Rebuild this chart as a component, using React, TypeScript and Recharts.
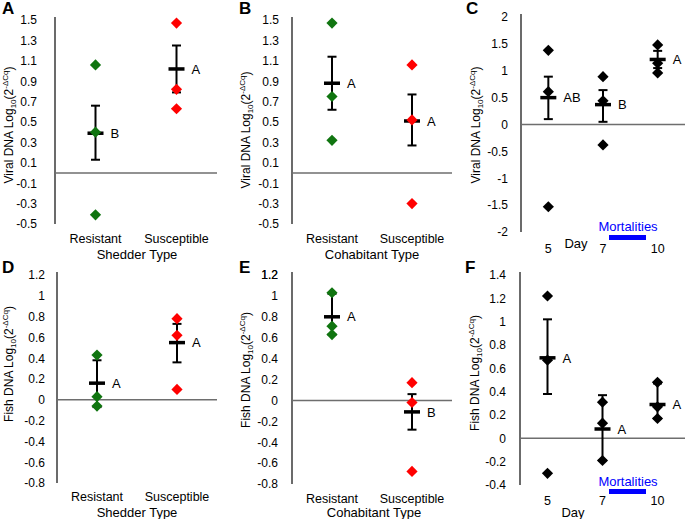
import React from "react";
import { ComposedChart, Scatter, XAxis, YAxis, ReferenceLine, ErrorBar } from "recharts";

const FONT = "'Liberation Sans', Arial, Helvetica, sans-serif";
const GREEN = "#107510";
const RED = "#ff0000";
const BLACK = "#000000";
const BLUE = "#0000ff";

// ---------- categories & ticks ----------
const typeCategories = ["Resistant", "Susceptible"];
const dayCategories = ["5", "7", "10"];

const viralTypeTicks = [-0.5, -0.3, -0.1, 0.1, 0.3, 0.5, 0.7, 0.9, 1.1, 1.3, 1.5];
const viralDayTicks = [-2, -1.5, -1, -0.5, 0, 0.5, 1, 1.5, 2];
const fishTypeTicks = [-0.8, -0.6, -0.4, -0.2, 0, 0.2, 0.4, 0.6, 0.8, 1, 1.2];
const fishCohabTicks = [-0.8, -0.6, -0.4, -0.2, 0, 0.2, 0.4, 0.6, 0.8, 1, 1.2];
const fishDayTicks = [-0.4, -0.2, 0, 0.2, 0.4, 0.6, 0.8, 1, 1.2, 1.4];

// ---------- Panel A: viral DNA, shedder type ----------
const aResistant = [1.06, 0.4, -0.41];
const aSusceptible = [1.47, 0.82, 0.63];
const aMean = [0.39, 1.02];
const aLow = [0.13, 0.79];
const aHigh = [0.66, 1.25];
const aLetters = ["B", "A"];

// ---------- Panel B: viral DNA, cohabitant type ----------
const bResistant = [1.47, 0.75, 0.32];
const bSusceptible = [1.06, 0.52, -0.3];
const bMean = [0.88, 0.51];
const bLow = [0.62, 0.27];
const bHigh = [1.14, 0.77];
const bLetters = ["A", "A"];

// ---------- Panel C: viral DNA by day ----------
const cDay5 = [1.38, 0.61, -1.53];
const cDay7 = [0.89, 0.44, -0.38];
const cDay10 = [1.48, 1.14, 0.96];
const cMean = [0.5, 0.37, 1.21];
const cLow = [0.1, 0.05, 1.05];
const cHigh = [0.89, 0.64, 1.37];
const cLetters = ["AB", "B", "A"];

// ---------- Panel D: fish DNA, shedder type ----------
const dResistant = [0.43, 0.03, -0.06];
const dSusceptible = [0.78, 0.62, 0.1];
const dMean = [0.16, 0.55];
const dLow = [-0.07, 0.36];
const dHigh = [0.38, 0.73];
const dLetters = ["A", "A"];

// ---------- Panel E: fish DNA, cohabitant type ----------
const eResistant = [1.03, 0.71, 0.63];
const eSusceptible = [0.17, -0.02, -0.68];
const eMean = [0.8, -0.11];
const eLow = [0.63, -0.28];
const eHigh = [1.02, 0.06];
const eLetters = ["A", "B"];

// ---------- Panel F: fish DNA by day ----------
const fDay5 = [1.22, 0.67, -0.3];
const fDay7 = [0.31, 0.13, -0.19];
const fDay10 = [0.48, 0.27, 0.17];
const fMean = [0.69, 0.08, 0.29];
const fLow = [0.38, -0.19, 0.17];
const fHigh = [1.02, 0.37, 0.47];
const fLetters = ["A", "A", "A"];

type PanelCfg = {
  box: [number, number, number, number]; // left, top, width, height (page)
  plot: [number, number, number, number]; // left, top(top tick), right, bottom (page)
  domain: [number, number];
  yTicks: number[];
  yTickGap: number;
  xTickGap: number;
  categories: string[];
  groups: number[][];
  colors: string[];
  means: number[];
  lows: number[];
  highs: number[];
  letters: string[];
  yLabelMain: string;
  yLabelPos: [number, number]; // baseline x, center y (page)
  xTitle: string;
  xTitlePos: [number, number]; // center x, baseline y (page)
};

// headroom above the top tick (px) and how far the axis line runs above it
const HEADROOM = 9;
const AXIS_OVERSHOOT = 3;

const diamond = (color: string) => (props: any) => {
  const { cx, cy } = props;
  const r = 5.6;
  return (
    <path
      d={`M${cx},${cy - r}L${cx + r},${cy}L${cx},${cy + r}L${cx - r},${cy}Z`}
      fill={color}
    />
  );
};

const meanShape = (props: any) => {
  const { cx, cy, payload } = props;
  return (
    <g>
      <rect x={cx - 8} y={cy - 1.75} width={16} height={3.5} fill={BLACK} />
      <text
        x={cx + 15}
        y={cy}
        dy="0.36em"
        fontSize={13}
        fontFamily={FONT}
        fill={BLACK}
      >
        {payload.letter}
      </text>
    </g>
  );
};

const yTickRenderer = (props: any) => {
  const { x, y, payload } = props;
  return (
    <text
      x={x}
      y={y}
      dy="0.36em"
      textAnchor="end"
      fontSize={12}
      fontFamily={FONT}
      fill={BLACK}
    >
      {String(payload.value)}
    </text>
  );
};

function Panel({ cfg }: { cfg: PanelCfg }) {
  const [bl, bt, bw, bh] = cfg.box;
  const [pl, pt, pr, pb] = cfg.plot;
  const n = cfg.categories.length;
  const xTicks = cfg.categories.map((_, i) => i + 1);
  const unitPerPx = (cfg.domain[1] - cfg.domain[0]) / (pb - pt);
  const yDomain: [number, number] = [cfg.domain[0], cfg.domain[1] + HEADROOM * unitPerPx];
  const axisTop = cfg.domain[1] + AXIS_OVERSHOOT * unitPerPx;
  const meanData = cfg.means.map((m, i) => ({
    x: i + 1,
    y: m,
    err: [m - cfg.lows[i], cfg.highs[i] - m],
    letter: cfg.letters[i],
  }));
  const lx = cfg.yLabelPos[0] - bl;
  const ly = cfg.yLabelPos[1] - bt;
  const tx = cfg.xTitlePos[0] - bl;
  const ty = cfg.xTitlePos[1] - bt;

  const yLabel = () => (
    <text
      x={lx}
      y={ly}
      transform={`rotate(-90, ${lx}, ${ly})`}
      textAnchor="middle"
      fontSize={12}
      fontFamily={FONT}
      fill={BLACK}
    >
      {cfg.yLabelMain}
      <tspan fontSize={8} dy={3}>10</tspan>
      <tspan dy={-3}>(2</tspan>
      <tspan fontSize={8} dy={-5}>-ΔCq</tspan>
      <tspan dy={5}>)</tspan>
    </text>
  );
  const xLabel = () => (
    <text x={tx} y={ty} textAnchor="middle" fontSize={13} fontFamily={FONT} fill={BLACK}>
      {cfg.xTitle}
    </text>
  );

  return (
    <div style={{ position: "absolute", left: bl, top: bt, width: bw, height: bh }}>
      <ComposedChart
        width={bw}
        height={bh}
        margin={{ top: pt - HEADROOM - bt, right: bl + bw - pr, bottom: 0, left: 0 }}
        style={{ fontFamily: FONT }}
      >
        <XAxis
          type="number"
          dataKey="x"
          domain={[0.5, n + 0.5]}
          ticks={xTicks}
          interval={0}
          tickFormatter={(v: number) => cfg.categories[v - 1]}
          axisLine={false}
          tickLine={false}
          tickSize={0}
          tickMargin={cfg.xTickGap}
          height={bt + bh - pb}
          tick={{ fill: BLACK, fontSize: 12.5, fontFamily: FONT }}
          label={xLabel}
        />
        <YAxis
          type="number"
          dataKey="y"
          domain={yDomain}
          ticks={[...cfg.yTicks]}
          interval={0}
          width={pl - bl}
          axisLine={false}
          tickLine={false}
          tickSize={0}
          tickMargin={cfg.yTickGap}
          tick={yTickRenderer}
          label={yLabel}
        />
        <ReferenceLine
          segment={[
            { x: 0.5, y: cfg.domain[0] },
            { x: 0.5, y: axisTop },
          ]}
          stroke="#3a3a3a"
          strokeWidth={1.5}
        />
        <ReferenceLine y={0} stroke="#6e6e6e" strokeWidth={1.5} />
        <Scatter data={meanData} dataKey="y" shape={meanShape} isAnimationActive={false}>
          <ErrorBar dataKey="err" direction="y" width={4.5} stroke={BLACK} strokeWidth={2} />
        </Scatter>
        {cfg.groups.map((vals, i) => (
          <Scatter
            key={i}
            data={vals.map((v) => ({ x: i + 1, y: v }))}
            dataKey="y"
            shape={diamond(cfg.colors[i])}
            isAnimationActive={false}
          />
        ))}
      </ComposedChart>
    </div>
  );
}

const panels: PanelCfg[] = [
  {
    box: [0, 0, 228, 262],
    plot: [55, 20, 217, 224],
    domain: [-0.5, 1.5],
    yTicks: viralTypeTicks,
    yTickGap: 18,
    xTickGap: 10,
    categories: typeCategories,
    groups: [aResistant, aSusceptible],
    colors: [GREEN, RED],
    means: aMean,
    lows: aLow,
    highs: aHigh,
    letters: aLetters,
    yLabelMain: "Viral DNA Log",
    yLabelPos: [12.5, 125],
    xTitle: "Shedder Type",
    xTitlePos: [137, 259],
  },
  {
    box: [228, 0, 227, 262],
    plot: [292, 20, 452, 224],
    domain: [-0.5, 1.5],
    yTicks: viralTypeTicks,
    yTickGap: 13,
    xTickGap: 10,
    categories: typeCategories,
    groups: [bResistant, bSusceptible],
    colors: [GREEN, RED],
    means: bMean,
    lows: bLow,
    highs: bHigh,
    letters: bLetters,
    yLabelMain: "Viral DNA Log",
    yLabelPos: [250, 130],
    xTitle: "Cohabitant Type",
    xTitlePos: [372, 259],
  },
  {
    box: [455, 0, 230, 262],
    plot: [521, 17, 685, 232],
    domain: [-2, 2],
    yTicks: viralDayTicks,
    yTickGap: 13,
    xTickGap: 12,
    categories: dayCategories,
    groups: [cDay5, cDay7, cDay10],
    colors: [BLACK, BLACK, BLACK],
    means: cMean,
    lows: cLow,
    highs: cHigh,
    letters: cLetters,
    yLabelMain: "Viral DNA Log",
    yLabelPos: [480, 125],
    xTitle: "Day",
    xTitlePos: [576, 247.5],
  },
  {
    box: [0, 262, 228, 257],
    plot: [57, 275, 217, 483],
    domain: [-0.8, 1.2],
    yTicks: fishTypeTicks,
    yTickGap: 12,
    xTickGap: 9,
    categories: typeCategories,
    groups: [dResistant, dSusceptible],
    colors: [GREEN, RED],
    means: dMean,
    lows: dLow,
    highs: dHigh,
    letters: dLetters,
    yLabelMain: "Fish DNA Log",
    yLabelPos: [13, 364],
    xTitle: "Shedder Type",
    xTitlePos: [137, 517],
  },
  {
    box: [228, 262, 227, 257],
    plot: [292, 275, 452, 484],
    domain: [-0.8, 1.2],
    yTicks: fishCohabTicks,
    yTickGap: 14,
    xTickGap: 10,
    categories: typeCategories,
    groups: [eResistant, eSusceptible],
    colors: [GREEN, RED],
    means: eMean,
    lows: eLow,
    highs: eHigh,
    letters: eLetters,
    yLabelMain: "Fish DNA Log",
    yLabelPos: [250, 370],
    xTitle: "Cohabitant Type",
    xTitlePos: [374, 517],
  },
  {
    box: [455, 262, 230, 257],
    plot: [520, 275, 685, 485],
    domain: [-0.4, 1.4],
    yTicks: fishDayTicks,
    yTickGap: 14,
    xTickGap: 11,
    categories: dayCategories,
    groups: [fDay5, fDay7, fDay10],
    colors: [BLACK, BLACK, BLACK],
    means: fMean,
    lows: fLow,
    highs: fHigh,
    letters: fLetters,
    yLabelMain: "Fish DNA Log",
    yLabelPos: [479, 373],
    xTitle: "Day",
    xTitlePos: [573, 517],
  },
];

const panelLetters = ["A", "B", "C", "D", "E", "F"];
const panelLetterPos: [number, number][] = [
  [2, 14],
  [239, 14],
  [466, 14],
  [2, 273],
  [239, 273],
  [465, 273],
];

// panel E's top tick label, which the axis does not print
const ePanel = panels[4];
const eTopTick = fishCohabTicks[fishCohabTicks.length - 1];

export default function App() {
  return (
    <div
      style={{
        position: "absolute",
        left: 0,
        top: 0,
        width: 685,
        height: 519,
        background: "#ffffff",
        fontFamily: FONT,
        overflow: "hidden",
      }}
    >
      <style>{"body{margin:0}"}</style>
      {panels.map((p, i) => (
        <Panel key={i} cfg={p} />
      ))}
      <svg
        width={685}
        height={519}
        style={{ position: "absolute", left: 0, top: 0, pointerEvents: "none" }}
      >
        {panelLetters.map((t, i) => (
          <text
            key={t}
            x={panelLetterPos[i][0]}
            y={panelLetterPos[i][1]}
            fontSize={17}
            fontWeight="bold"
            fontFamily={FONT}
            fill={BLACK}
          >
            {t}
          </text>
        ))}
        <text
          x={ePanel.plot[0] - ePanel.yTickGap}
          y={ePanel.plot[1]}
          dy="0.36em"
          textAnchor="end"
          fontSize={12}
          fontFamily={FONT}
          fill={BLACK}
        >
          {String(eTopTick)}
        </text>
        <text x={628} y={230.5} textAnchor="middle" fontSize={13} fontFamily={FONT} fill={BLUE}>
          Mortalities
        </text>
        <rect x={609} y={235} width={37} height={5} fill={BLUE} />
        <text x={628} y={485.5} textAnchor="middle" fontSize={13} fontFamily={FONT} fill={BLUE}>
          Mortalities
        </text>
        <rect x={609} y={489} width={37} height={5} fill={BLUE} />
      </svg>
    </div>
  );
}
